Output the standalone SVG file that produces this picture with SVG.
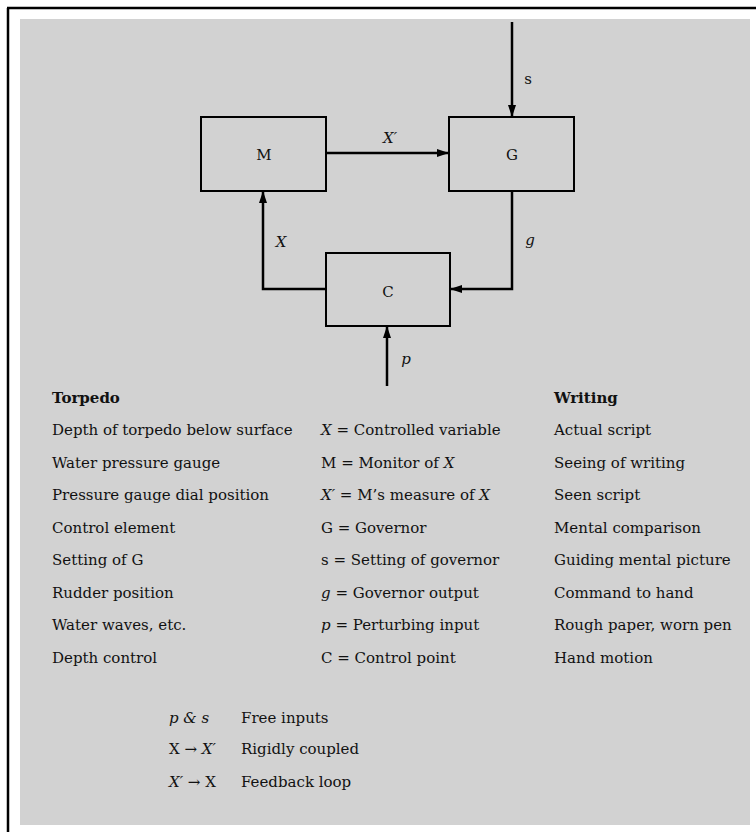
<svg xmlns="http://www.w3.org/2000/svg" width="756" height="832" viewBox="0 0 756 832">
<defs>
<marker id="ah" markerUnits="userSpaceOnUse" markerWidth="12" markerHeight="8" refX="12" refY="4" orient="auto">
<path d="M0,0 L12,4 L0,8 z" fill="#000"/>
</marker>
<style>
text{font-family:"DejaVu Serif","Liberation Serif",serif;font-size:15px;fill:#111}
.c{text-anchor:middle}
.i{font-style:italic}
.b{font-weight:bold}
.box{fill:none;stroke:#000;stroke-width:2}
.ln{fill:none;stroke:#000;stroke-width:2.5;marker-end:url(#ah)}
</style>
</defs>
<rect x="0" y="0" width="756" height="832" fill="#fff"/>
<rect x="20" y="19" width="730" height="806" fill="#d2d2d2"/>
<line x1="7" y1="8" x2="756" y2="8" stroke="#000" stroke-width="2.5"/>
<line x1="8" y1="8" x2="8" y2="832" stroke="#000" stroke-width="2.5"/>

<g id="connectors">
<path class="ln" d="M512,22 L512,117"/>
<path class="ln" d="M326,153 L449,153"/>
<path class="ln" d="M326,289 L263,289 L263,191"/>
<path class="ln" d="M512,191 L512,289 L450,289"/>
<path class="ln" d="M387,386 L387,326"/>
<text x="528" y="84" class="c">s</text>
<text x="390" y="143" class="c i">X′</text>
<text x="281" y="247" class="c i">X</text>
<text x="530" y="245" class="c i">g</text>
<text x="406" y="364" class="c i">p</text>
</g>

<g id="node-M">
<rect class="box" x="201" y="117" width="125" height="74"/>
<text x="264" y="160" class="c">M</text>
</g>
<g id="node-G">
<rect class="box" x="449" y="117" width="125" height="74"/>
<text x="512" y="160" class="c">G</text>
</g>
<g id="node-C">
<rect class="box" x="326" y="253" width="124" height="73"/>
<text x="388" y="297" class="c">C</text>
</g>

<g id="table">
<text x="52" y="403" class="b">Torpedo</text>
<text x="554" y="403" class="b">Writing</text>

<text x="52" y="435">Depth of torpedo below surface</text>
<text x="321" y="435"><tspan class="i">X</tspan> = Controlled variable</text>
<text x="554" y="435">Actual script</text>

<text x="52" y="467.5">Water pressure gauge</text>
<text x="321" y="467.5">M = Monitor of <tspan class="i">X</tspan></text>
<text x="554" y="467.5">Seeing of writing</text>

<text x="52" y="500">Pressure gauge dial position</text>
<text x="321" y="500"><tspan class="i">X′</tspan> = M’s measure of <tspan class="i">X</tspan></text>
<text x="554" y="500">Seen script</text>

<text x="52" y="532.5">Control element</text>
<text x="321" y="532.5">G = Governor</text>
<text x="554" y="532.5">Mental comparison</text>

<text x="52" y="565">Setting of G</text>
<text x="321" y="565">s = Setting of governor</text>
<text x="554" y="565">Guiding mental picture</text>

<text x="52" y="597.5">Rudder position</text>
<text x="321" y="597.5"><tspan class="i">g</tspan> = Governor output</text>
<text x="554" y="597.5">Command to hand</text>

<text x="52" y="630">Water waves, etc.</text>
<text x="321" y="630"><tspan class="i">p</tspan> = Perturbing input</text>
<text x="554" y="630">Rough paper, worn pen</text>

<text x="52" y="662.5">Depth control</text>
<text x="321" y="662.5">C = Control point</text>
<text x="554" y="662.5">Hand motion</text>
</g>

<g id="legend">
<text x="169" y="723" class="i">p &amp; s</text>
<text x="241" y="723">Free inputs</text>
<text x="169" y="754">X → <tspan class="i">X′</tspan></text>
<text x="241" y="754">Rigidly coupled</text>
<text x="169" y="787"><tspan class="i">X′</tspan> → X</text>
<text x="241" y="787">Feedback loop</text>
</g>
</svg>
